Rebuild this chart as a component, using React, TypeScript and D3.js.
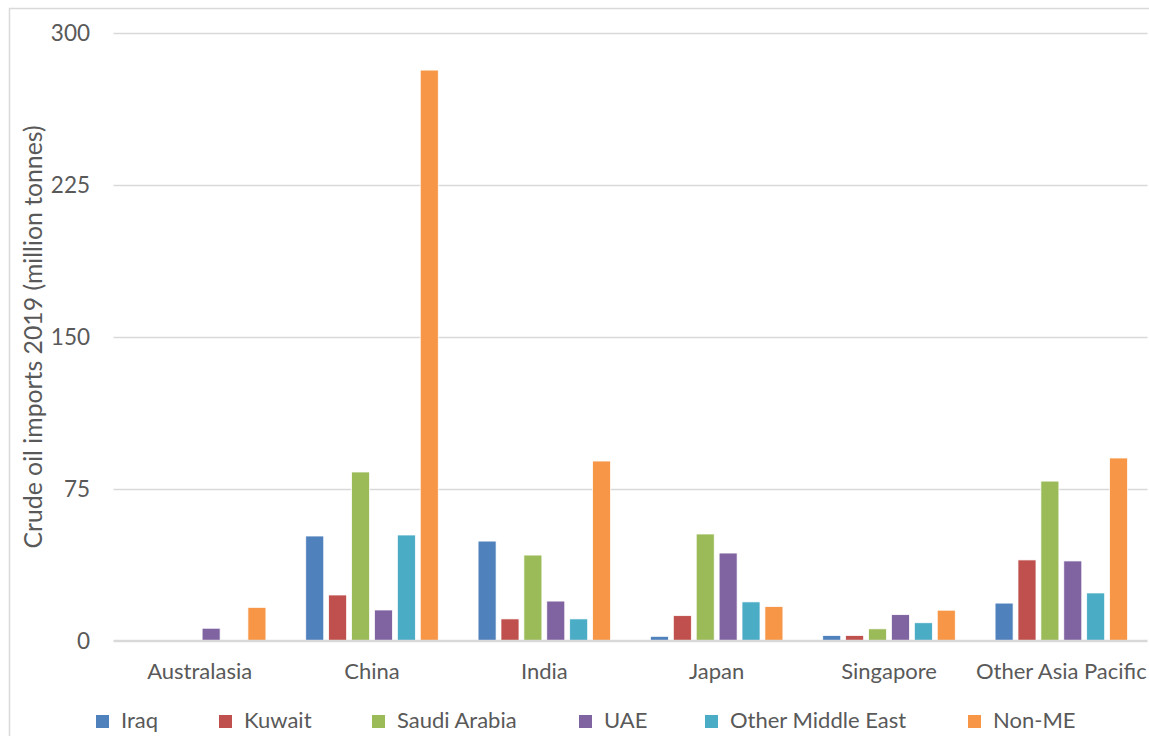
import React from "react";
import * as d3 from "d3";

const categories = ["Australasia", "China", "India", "Japan", "Singapore", "Other Asia Pacific"];
const seriesNames = ["Iraq", "Kuwait", "Saudi Arabia", "UAE", "Other Middle East", "Non-ME"];
const iraq = [0, 51.8, 49.3, 2.3, 2.7, 18.7];
const kuwait = [0, 22.7, 10.9, 12.5, 2.7, 40.0];
const saudiArabia = [0, 83.4, 42.4, 52.8, 6.0, 78.9];
const uae = [6.3, 15.3, 19.7, 43.4, 13.0, 39.5];
const otherMiddleEast = [0, 52.3, 10.9, 19.3, 9.0, 23.7];
const nonME = [16.6, 281.7, 88.8, 17.0, 15.2, 90.3];
const yTicks = [0, 75, 150, 225, 300];
const yAxisTitle = "Crude oil imports 2019 (million tonnes)";

const seriesValues = [iraq, kuwait, saudiArabia, uae, otherMiddleEast, nonME];
const colors = ["#4f81bd", "#c0504d", "#9bbb59", "#8064a2", "#4bacc6", "#f79646"];

const W = 1149;
const H = 736;
const plot = { left: 113.5, right: 1147.5, top: 33, bottom: 641 };
const legendX = [96, 219, 372, 579, 705, 968];
const FONT = "Lato, 'Open Sans', sans-serif";
const TEXT = "#595959";

export default function App() {
  const y = d3.scaleLinear().domain([0, 300]).range([plot.bottom, plot.top]);
  const x0 = d3.scaleBand<string>().domain(categories).range([plot.left, plot.right]).padding(0);
  const groupW = 132.5;
  const offset = (x0.bandwidth() - groupW) / 2;
  const x1 = d3.scaleBand<string>().domain(seriesNames).range([0, groupW]).paddingInner(0.214).paddingOuter(0);

  return (
    <svg width={W} height={H} style={{ position: "absolute", left: 0, top: 0, background: "#fff" }} fontFamily={FONT}>
      <rect x={9.5} y={8.5} width={W + 10} height={H + 10} fill="#fff" stroke="#d9d9d9" strokeWidth={1.5} />
      {yTicks.map((t) => (
        <g key={t}>
          {t !== 0 && (
            <line x1={plot.left} x2={plot.right} y1={Math.round(y(t)) + 0.5} y2={Math.round(y(t)) + 0.5} stroke="#d9d9d9" strokeWidth={1.5} />
          )}
          <text x={90} y={y(t)} dy="0.35em" textAnchor="end" fontSize={22.5} fill={TEXT}>
            {t}
          </text>
        </g>
      ))}
      {seriesValues.map((vals, si) => (
        <g key={si}>
          {vals.map((v, ci) =>
            v > 0 ? (
              <rect
                key={ci}
                x={(x0(categories[ci]) as number) + offset + (x1(seriesNames[si]) as number)}
                y={y(v)}
                width={x1.bandwidth()}
                height={y(0) - y(v)}
                fill={colors[si]}
                stroke="#ffffff"
                strokeWidth={0.75}
              />
            ) : null
          )}
        </g>
      ))}
      <line x1={plot.left} x2={plot.right} y1={y(0)} y2={y(0)} stroke="#d9d9d9" strokeWidth={2.5} />
      {categories.map((c) => (
        <text key={c} x={(x0(c) as number) + x0.bandwidth() / 2} y={679} textAnchor="middle" fontSize={22} fill={TEXT}>
          {c}
        </text>
      ))}
      <text transform={`translate(42,${(plot.top + plot.bottom) / 2}) rotate(-90)`} textAnchor="middle" fontSize={24.8} fill={TEXT}>
        {yAxisTitle}
      </text>
      {seriesNames.map((s, i) => (
        <g key={s}>
          <rect x={legendX[i]} y={715} width={13} height={13} fill={colors[i]} />
          <text x={legendX[i] + 25} y={728} fontSize={22} fill={TEXT}>
            {s}
          </text>
        </g>
      ))}
    </svg>
  );
}
